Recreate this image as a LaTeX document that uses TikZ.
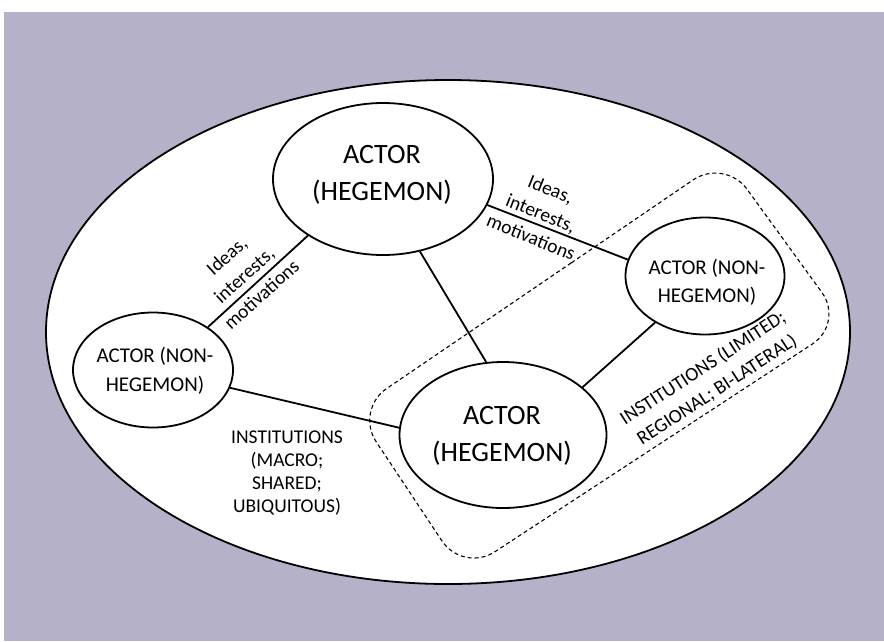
\documentclass[tikz,border=0pt]{standalone}
\usepackage{fontspec}
\setmainfont{Carlito}
\usetikzlibrary{shapes.geometric}
\definecolor{bgc}{RGB}{180,177,200}
\begin{document}
\begin{tikzpicture}[x=1pt,y=-1pt,
  actor/.style={ellipse,draw=black,line width=1.8pt,fill=white,inner sep=0pt},
  conn/.style={line width=1.8pt},
  bigtxt/.style={align=center,font=\fontsize{28}{37.5}\selectfont,inner sep=0pt},
  midtxt/.style={align=center,font=\fontsize{21}{28.5}\selectfont,inner sep=0pt},
  smalltxt/.style={align=center,font=\fontsize{19.5}{23}\selectfont,inner sep=0pt},
  rottxt/.style={align=center,font=\fontsize{19.5}{26}\selectfont,inner sep=0pt},
  regionbox/.style={draw,rounded corners=38pt,line width=1.1pt,dash pattern=on 4pt off 3pt}
]
\useasboundingbox (0,0) rectangle (884,641);
\fill[white] (0,0) rectangle (884,641);
\fill[bgc] (4,12) rectangle (884,641);
\node[ellipse,draw,fill=white,line width=1.8pt,minimum width=804pt,minimum height=504pt,inner sep=0pt] (world) at (448,332) {};

\coordinate (rS) at (539.9,284.2);
\coordinate (rT) at (724.7,158.4);
\coordinate (rR) at (844.2,323.2);
\coordinate (rB) at (463,572.6);
\coordinate (rL) at (355.1,410);
\draw[regionbox] (rS) -- (rT) -- (rR) -- (rB) -- (rL) -- cycle;

\node[actor,minimum width=220pt,minimum height=152pt] (hegA) at (383,179) {};
\node[actor,minimum width=160pt,minimum height=115pt] (nonL) at (153,370) {};
\node[actor,minimum width=159pt,minimum height=117pt] (nonR) at (705,276) {};
\node[actor,minimum width=207pt,minimum height=146pt] (hegB) at (503,435) {};

\node[bigtxt] (hegAt) at (382,175) {ACTOR\\(HEGEMON)};
\node[bigtxt] (hegBt) at (502,436) {ACTOR\\(HEGEMON)};
\node[midtxt] (nonLt) at (155,371) {ACTOR (NON-\\HEGEMON)};
\node[midtxt] (nonRt) at (707,282.5) {ACTOR (NON-\\HEGEMON)};

\draw[conn] (hegA.217) -- (nonL.38);
\draw[conn] (hegA.-14.6) -- (nonR.168);
\draw[conn] (hegA.-63) -- (hegB.103);
\draw[conn] (nonL.-13.5) -- (hegB.176);
\draw[conn] (nonR.223) -- (hegB.31);

\node[rottxt,rotate=42] (lblL) at (244,275) {Ideas,\\interests,\\motivations};
\node[rottxt,rotate=-22] (lblR) at (541,213) {Ideas,\\interests,\\motivations};
\node[smalltxt] (instM) at (287,473) {INSTITUTIONS\\(MACRO;\\SHARED;\\UBIQUITOUS)};
\node[rottxt,rotate=33] (instR) at (710,379) {INSTITUTIONS (LIMITED;\\REGIONAL; BI-LATERAL)};
\end{tikzpicture}
\end{document}
